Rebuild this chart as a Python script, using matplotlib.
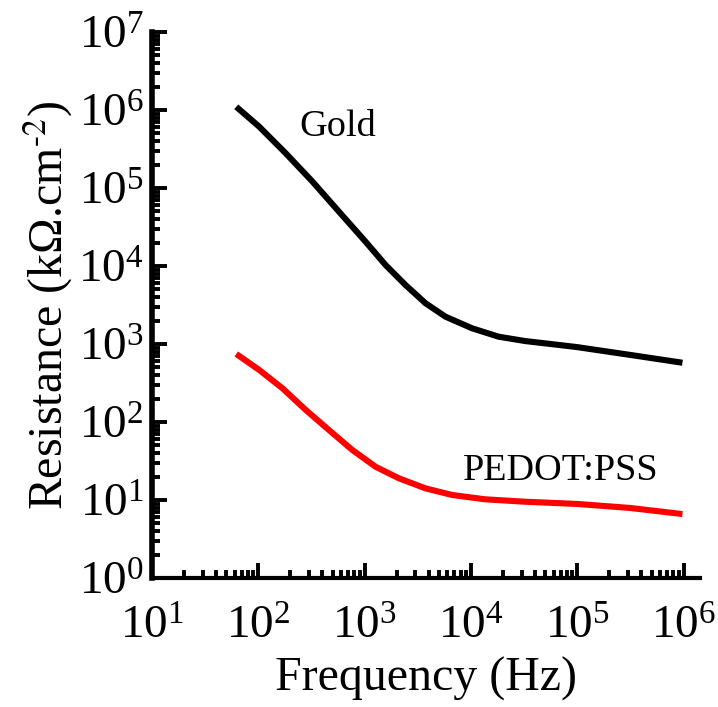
import numpy as np
import matplotlib
matplotlib.use("Agg")
import matplotlib.pyplot as plt
from matplotlib.ticker import LogLocator, NullFormatter

# values (log-log axes)
gold_freq = [62, 102, 181, 323, 574, 1021, 1574, 2427, 3741, 5768, 10250,
             18240, 32510, 56230, 100000, 316200, 977000]
gold_res = [1.10e6, 6.11e5, 2.79e5, 1.21e5, 4.97e4, 2.05e4, 1.03e4, 5700, 3330, 2240, 1590,
            1240, 1090, 1000, 912, 724, 575]
pedot_freq = [62, 102, 169, 279, 462, 766, 1268, 2099, 3741, 6653, 13680,
              32510, 100000, 316200, 977000]
pedot_res = [745, 465, 270, 143, 78.9, 43.8, 26.7, 19.0, 14.1, 11.6, 10.2,
             9.5, 8.9, 7.9, 6.6]

plt.rcParams['font.family'] = ['Liberation Serif', 'DejaVu Serif']
plt.rcParams['mathtext.fontset'] = 'stix'

fig = plt.figure(figsize=(7.18, 7.07), dpi=100)
ax = fig.add_axes([152 / 718, 1 - 578 / 707, (700 - 152) / 718, (578 - 32) / 707])

ax.plot(gold_freq, gold_res, color='black', lw=4.4, solid_capstyle='butt', solid_joinstyle='round')
ax.plot(pedot_freq, pedot_res, color='#ff0000', lw=4.4, solid_capstyle='butt', solid_joinstyle='round')

ax.set_xscale('log')
ax.set_yscale('log')
ax.set_xlim(10, 10 ** 6.155)
ax.set_ylim(1, 1e7)

ax.xaxis.set_major_locator(LogLocator(base=10, numticks=10))
ax.yaxis.set_major_locator(LogLocator(base=10, numticks=10))
ax.xaxis.set_minor_locator(LogLocator(base=10, subs=np.arange(2, 10), numticks=20))
ax.yaxis.set_minor_locator(LogLocator(base=10, subs=np.arange(2, 10), numticks=20))
ax.xaxis.set_minor_formatter(NullFormatter())
ax.yaxis.set_minor_formatter(NullFormatter())

for s in ['top', 'right']:
    ax.spines[s].set_visible(False)
ax.spines['left'].set_linewidth(4)
ax.spines['bottom'].set_linewidth(3)

ax.tick_params(which='major', direction='in', length=11, width=2.8, labelsize=34)
ax.tick_params(which='minor', direction='in', length=6, width=2.8)
ax.tick_params(axis='x', which='major', pad=20)
ax.tick_params(axis='y', which='major', pad=6)

ax.set_xlabel('Frequency (Hz)', fontsize=34.5, va='center')
ax.xaxis.set_label_coords(0.5, -0.185)
ax.set_ylabel('Resistance (kΩ.cm$^{\\text{-2}}$)', fontsize=34.5, va='center')
ax.yaxis.set_label_coords(-0.19, 0.5)

ax.text(10 ** 2.75, 10 ** 5.79, 'Gold', fontsize=27.5, ha='center', va='center')
ax.text(10 ** 4.84, 10 ** 1.38, 'PEDOT:PSS', fontsize=27.5, ha='center', va='center')

fig.savefig('out.png', dpi=100)
